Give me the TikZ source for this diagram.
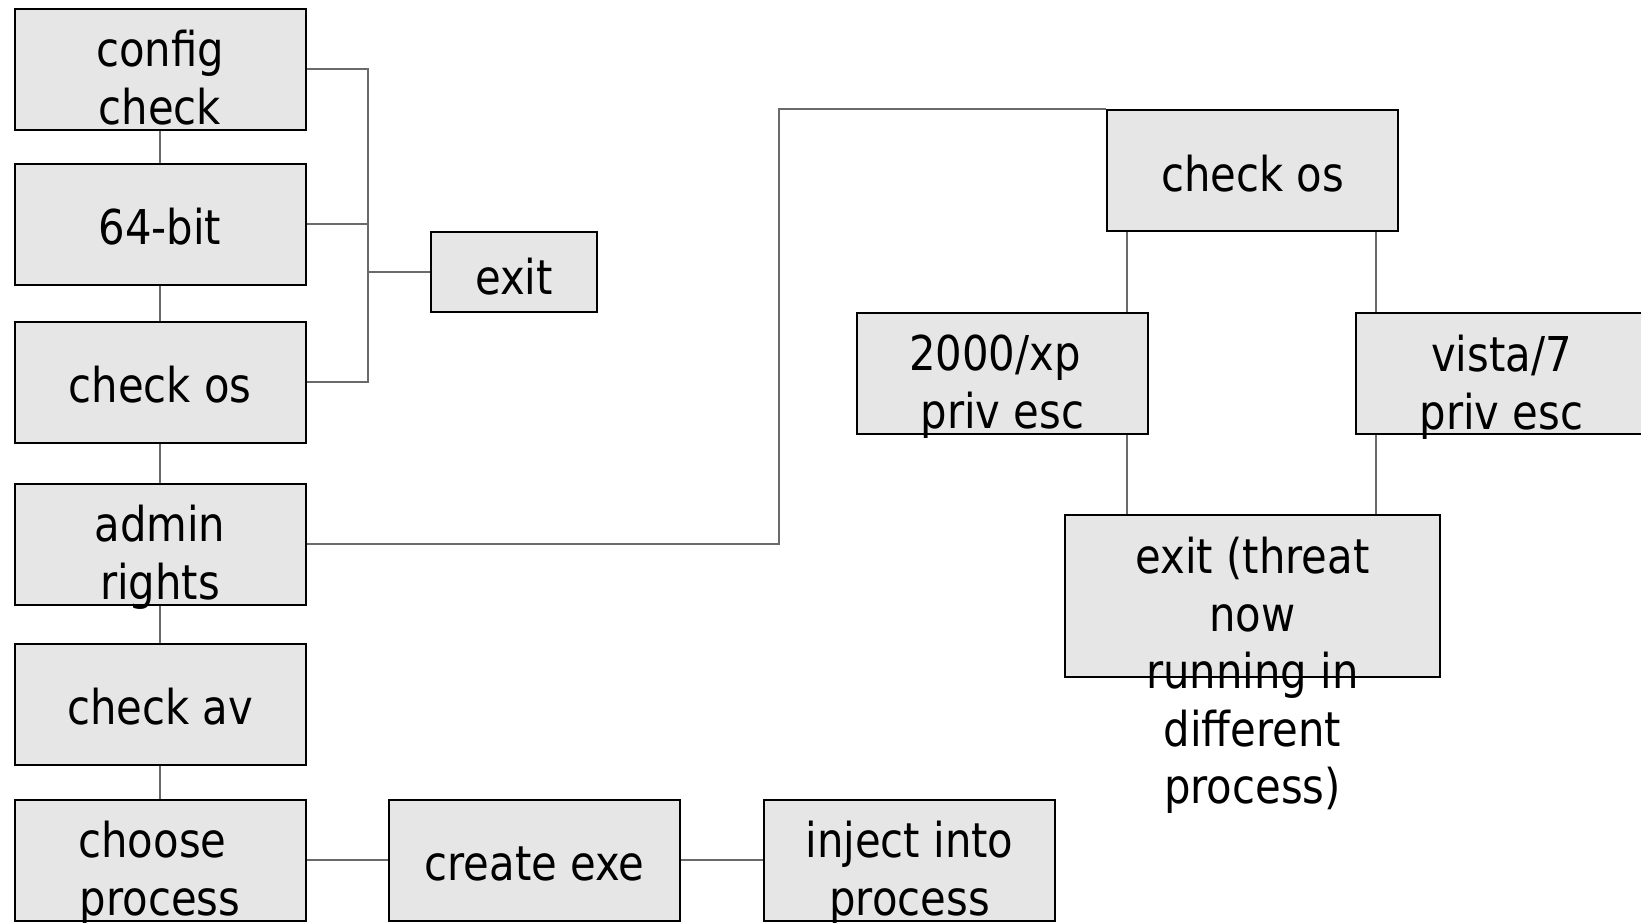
\documentclass[tikz,border=0pt]{standalone}
\usepackage{fontspec}
\setmainfont[FakeStretch=0.87]{DejaVu Sans}
\usepackage[dvipsnames]{xcolor}
\definecolor{boxgray}{HTML}{E6E6E6}
\definecolor{linkgray}{HTML}{6A6A6A}

\tikzset{
  stage/.style={draw=black, line width=1pt, fill=boxgray, minimum width=145.5pt, minimum height=60.5pt, inner sep=0pt},
  exitbox/.style={stage, minimum width=83pt, minimum height=40pt},
  threatbox/.style={stage, minimum width=187.5pt, minimum height=81pt},
  boxtext/.style={inner sep=0pt, align=center, anchor=north, font=\fontsize{24}{28.8}\selectfont, execute at begin node={\rule{0pt}{20pt}}},
  textmulti/.style={boxtext, yshift=-11.3pt},
  textsingle/.style={boxtext, yshift=-20.8pt},
  link/.style={draw=linkgray, line width=0.6pt},
}

\begin{document}
\begin{tikzpicture}[x=0.5pt, y=-0.5pt]
    \useasboundingbox (0,0) rectangle (1641,922);

    % left column
    \node[stage] (cfg) at (160,69) {};
    \node[stage] (bit) at (160,224) {};
    \node[stage] (os) at (160,382) {};
    \node[stage] (adm) at (160,544) {};
    \node[stage] (av) at (160,704) {};
    \node[stage] (cho) at (160,860) {};
    \node[exitbox] (ex) at (514,272) {};

    % bottom row
    \node[stage] (cre) at (534.5,860) {};
    \node[stage] (inj) at (909.5,860) {};

    % right branch
    \node[stage] (osb) at (1252.5,170.5) {};
    \node[stage] (xp) at (1002.5,373.5) {};
    \node[stage] (vis) at (1501.5,373.5) {};
    \node[threatbox] (thr) at (1252.5,596) {};

    \coordinate (bus) at (368,0);
    \coordinate (bend) at (779,0);
    \coordinate (lx) at (1127,0);
    \coordinate (rx) at (1376,0);

    \foreach \a/\b in {cfg/bit, bit/os, os/adm, adm/av, av/cho} {
        \draw[link] (\a.south) -- (\b.north);
    }
    \draw[link] (cfg.east) -- (cfg.east -| bus) -- (os.east -| bus) -- (os.east);
    \draw[link] (bit.east) -- (bit.east -| bus);
    \draw[link] (ex.west -| bus) -- (ex.west);
    \draw[link] (adm.east) -- (adm.east -| bend) -- (osb.north -| bend) -- (osb.north west);
    \draw[link] (osb.south -| lx) -- (xp.north -| lx);
    \draw[link] (xp.south -| lx) -- (thr.north -| lx);
    \draw[link] (osb.south -| rx) -- (vis.north -| rx);
    \draw[link] (vis.south -| rx) -- (thr.north -| rx);
    \draw[link] (cho.east) -- (cre.west);
    \draw[link] (cre.east) -- (inj.west);

    % texts
    \node[textmulti] (cfgtxt) at (cfg.north) {config\\check};
    \node[textsingle] (bittxt) at (bit.north) {64-bit};
    \node[textsingle] (ostxt) at (os.north) {check os};
    \node[textmulti] (admtxt) at (adm.north) {admin\\rights};
    \node[textsingle] (avtxt) at (av.north) {check av};
    \node[textmulti] (chotxt) at (cho.north) {choose\hspace*{7.5pt}\\process};
    \node[textmulti] (extxt) at (ex.north) {exit};
    \node[textsingle] (cretxt) at (cre.north) {create exe};
    \node[textmulti] (injtxt) at (inj.north) {inject into\\process};
    \node[textsingle] (osbtxt) at (osb.north) {check os};
    \node[textmulti] (xptxt) at (xp.north) {2000/xp\hspace*{7.5pt}\\priv esc};
    \node[textmulti] (vistxt) at (vis.north) {vista/7\\priv esc};
    \node[textmulti] (thrtxt) at (thr.north) {exit (threat\\now\\running in\hspace*{7.5pt}\\different\\process)};
\end{tikzpicture}
\end{document}
